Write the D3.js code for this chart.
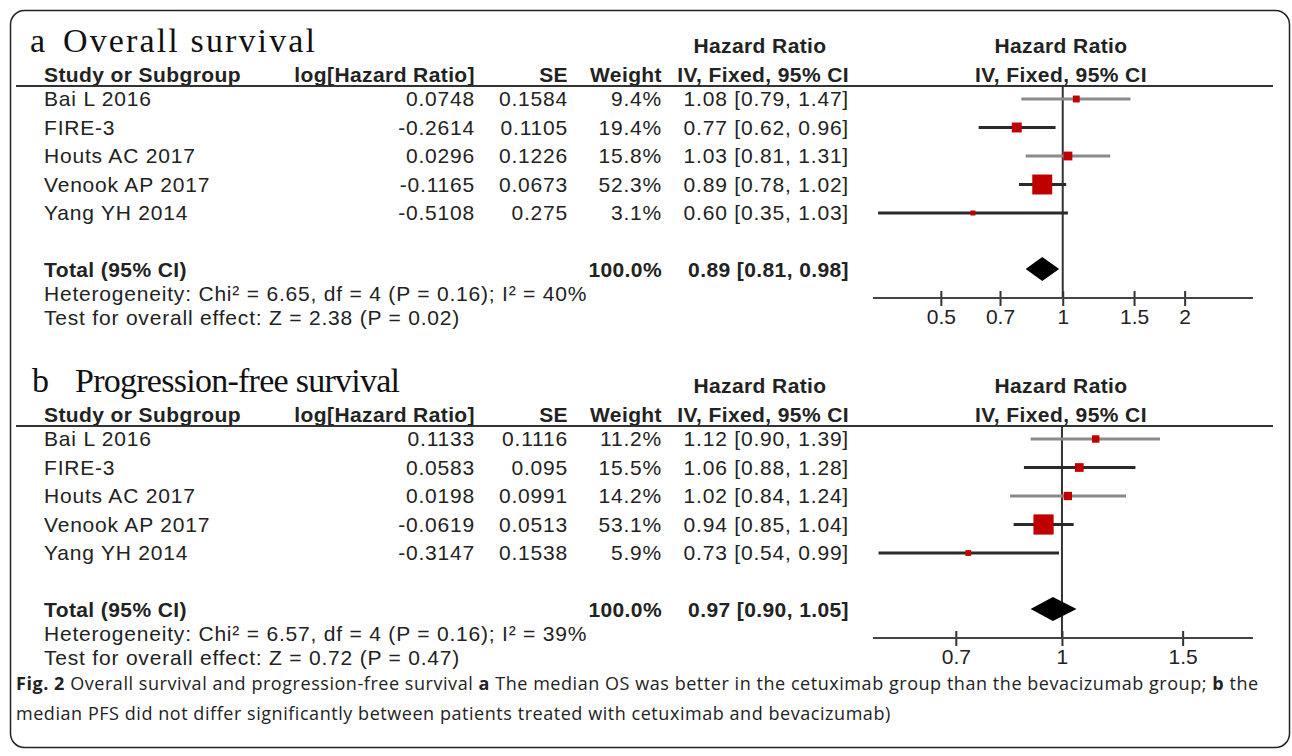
<!DOCTYPE html>
<head>
<meta charset="utf-8">
<title>Forest plots OS / PFS</title>
<script type="text/javascript" src="https://d3js.org/d3.v7.min.js"></script>
<style>
  body { margin: 0; background: #fff; }
  text { font-family: "Liberation Sans", Arial, sans-serif; fill: #222; }
  text.tab { font-size: 21px; letter-spacing: 0.8px; }
  text.tab.b { font-weight: bold; letter-spacing: 0.4px; }
</style>
</head>

<body>
<div id="container"></div>
<script>

// ---- data ----
const studies = ["Bai L 2016", "FIRE-3", "Houts AC 2017", "Venook AP 2017", "Yang YH 2014"]

const osLogHR  = [0.0748, -0.2614, 0.0296, -0.1165, -0.5108]
const osSE     = [0.1584, 0.1105, 0.1226, 0.0673, 0.275]
const osWeight = [9.4, 19.4, 15.8, 52.3, 3.1]
const osHR     = [1.08, 0.77, 1.03, 0.89, 0.60]
const osLow    = [0.79, 0.62, 0.81, 0.78, 0.35]
const osHigh   = [1.47, 0.96, 1.31, 1.02, 1.03]
const osTotal  = [0.89, 0.81, 0.98]
const osTicks  = [0.5, 0.7, 1, 1.5, 2]
const osHet    = "Heterogeneity: Chi² = 6.65, df = 4 (P = 0.16); I² = 40%"
const osTest   = "Test for overall effect: Z = 2.38 (P = 0.02)"

const pfsLogHR  = [0.1133, 0.0583, 0.0198, -0.0619, -0.3147]
const pfsSE     = [0.1116, 0.095, 0.0991, 0.0513, 0.1538]
const pfsWeight = [11.2, 15.5, 14.2, 53.1, 5.9]
const pfsHR     = [1.12, 1.06, 1.02, 0.94, 0.73]
const pfsLow    = [0.90, 0.88, 0.84, 0.85, 0.54]
const pfsHigh   = [1.39, 1.28, 1.24, 1.04, 0.99]
const pfsTotal  = [0.97, 0.90, 1.05]
const pfsTicks  = [0.7, 1, 1.5]
const pfsHet    = "Heterogeneity: Chi² = 6.57, df = 4 (P = 0.16); I² = 39%"
const pfsTest   = "Test for overall effect: Z = 0.72 (P = 0.47)"

const panels = [
  {letter: "a", title: "Overall survival", logHR: osLogHR, se: osSE, weight: osWeight,
   hr: osHR, low: osLow, high: osHigh, total: osTotal, ticks: osTicks, het: osHet, test: osTest,
   domain: [0.34, 2.95], titleX: 63, titleW: 252},
  {letter: "b", title: "Progression-free survival", logHR: pfsLogHR, se: pfsSE, weight: pfsWeight,
   hr: pfsHR, low: pfsLow, high: pfsHigh, total: pfsTotal, ticks: pfsTicks, het: pfsHet, test: pfsTest,
   domain: [0.53, 1.9], titleX: 75, titleW: 325}
]

const width = 1292, height = 756
const rowStep = 28.5
const panelStep = 340

const svg = d3.select("#container").append("svg")
    .attr("width", width).attr("height", height)
    .attr("viewBox", [0, 0, width, height])

// frame
svg.append("rect")
    .attr("x", 10.5).attr("y", 10.5).attr("width", 1279).attr("height", 737)
    .attr("rx", 14).attr("fill", "none").attr("stroke", "#222").attr("stroke-width", 1.5)

const boxSize = d3.scaleLinear().domain([0, 100]).range([4, 34.5])
const ciShade = ["#8a8a8a", "#2a2a2a", "#8a8a8a", "#2a2a2a", "#2a2a2a"]
const fmtHR = (h, l, u) => `${h.toFixed(2)} [${l.toFixed(2)}, ${u.toFixed(2)}]`

panels.forEach((p, k) => {
  const g = svg.append("g").attr("transform", `translate(0,${k * panelStep})`)
  const yRow = i => 99 + i * rowStep
  const yAxis = 298
  const x = d3.scaleLog().domain(p.domain).range([873, 1253])

  // title (serif)
  const serif = "'Liberation Serif', 'Times New Roman', serif"
  g.append("text").attr("x", 30 + k * 2).attr("y", 52)
      .style("font-family", serif).style("font-size", "34px").style("fill", "#111")
      .text(p.letter)
  g.append("text").attr("x", p.titleX).attr("y", 52)
      .attr("textLength", p.titleW).attr("lengthAdjust", "spacing")
      .style("font-family", serif).style("font-size", "34px").style("fill", "#111")
      .text(p.title)

  const head = [
    {t: "Hazard Ratio", x: 760, y: 53, a: "middle"},
    {t: "Hazard Ratio", x: 1061, y: 53, a: "middle"},
    {t: "Study or Subgroup", x: 44, y: 82, a: "start"},
    {t: "log[Hazard Ratio]", x: 475, y: 82, a: "end"},
    {t: "SE", x: 568, y: 82, a: "end"},
    {t: "Weight", x: 662, y: 82, a: "end"},
    {t: "IV, Fixed, 95% CI", x: 849, y: 82, a: "end"},
    {t: "IV, Fixed, 95% CI", x: 1061, y: 82, a: "middle"}
  ]
  g.selectAll("text.head").data(head).join("text").attr("class", "head tab b")
      .attr("x", d => d.x).attr("y", d => d.y).attr("text-anchor", d => d.a)
      .text(d => d.t)

  g.append("line").attr("x1", 16).attr("x2", 1273).attr("y1", 86).attr("y2", 86)
      .attr("stroke", "#333").attr("stroke-width", 2)

  // study rows
  const cols = [
    {x: 44, a: "start", f: (i) => studies[i]},
    {x: 475, a: "end", f: (i) => String(p.logHR[i])},
    {x: 568, a: "end", f: (i) => String(p.se[i])},
    {x: 662, a: "end", f: (i) => p.weight[i].toFixed(1) + "%"},
    {x: 849, a: "end", f: (i) => fmtHR(p.hr[i], p.low[i], p.high[i])}
  ]
  studies.forEach((s, i) => {
    cols.forEach(c => {
      g.append("text").attr("class", "tab").attr("x", c.x).attr("y", yRow(i) + 7)
          .attr("text-anchor", c.a).text(c.f(i))
    })
  })

  // total / heterogeneity / test
  g.append("text").attr("class", "tab b").attr("x", 44).attr("y", 277).text("Total (95% CI)")
  g.append("text").attr("class", "tab b").attr("x", 662).attr("y", 277).attr("text-anchor", "end")
      .text("100.0%")
  g.append("text").attr("class", "tab b").attr("x", 849).attr("y", 277).attr("text-anchor", "end")
      .text(fmtHR(p.total[0], p.total[1], p.total[2]))
  g.append("text").attr("class", "tab").attr("x", 44).attr("y", 301).text(p.het)
  g.append("text").attr("class", "tab").attr("x", 44).attr("y", 325).text(p.test)

  // line of no effect
  g.append("line").attr("x1", x(1)).attr("x2", x(1)).attr("y1", 86).attr("y2", yAxis)
      .attr("stroke", "#333").attr("stroke-width", 2)

  // confidence intervals and boxes
  g.selectAll("line.ci").data(studies).join("line").attr("class", "ci")
      .attr("x1", (d, i) => x(p.low[i])).attr("x2", (d, i) => x(p.high[i]))
      .attr("y1", (d, i) => yRow(i)).attr("y2", (d, i) => yRow(i))
      .attr("stroke", (d, i) => ciShade[i]).attr("stroke-width", 3)
  g.selectAll("rect.box").data(studies).join("rect").attr("class", "box")
      .attr("x", (d, i) => x(p.hr[i]) - boxSize(p.weight[i]) / 2)
      .attr("y", (d, i) => yRow(i) - boxSize(p.weight[i]) / 2)
      .attr("width", (d, i) => boxSize(p.weight[i]))
      .attr("height", (d, i) => boxSize(p.weight[i]))
      .attr("fill", "#c00000")

  // pooled diamond
  const yT = 269
  g.append("path")
      .attr("d", `M${x(p.total[1])},${yT} L${x(p.total[0])},${yT - 12} L${x(p.total[2])},${yT} L${x(p.total[0])},${yT + 12} Z`)
      .attr("fill", "#000")

  // axis
  const ax = g.append("g").attr("transform", `translate(0,${yAxis})`)
      .call(d3.axisBottom(x).tickValues(p.ticks).tickFormat(d3.format("")).tickSize(0).tickPadding(0))
  ax.select(".domain").remove()
  ax.append("line").attr("x1", 873).attr("x2", 1253).attr("stroke", "#444").attr("stroke-width", 2)
  ax.selectAll(".tick line").attr("y1", -7).attr("y2", 8).attr("stroke", "#333").attr("stroke-width", 2)
  ax.selectAll(".tick text").attr("y", 26).attr("dy", null)
      .style("font-size", "21px").style("fill", "#222")
      .style("font-family", "'Liberation Sans', Arial, sans-serif")
})

// caption
const capFont = "'Open Sans', sans-serif"
const cap = svg.append("text").attr("x", 16).attr("y", 690)
    .style("font-family", capFont).style("font-size", "18px").style("letter-spacing", "0.55px")
    .style("fill", "#222")
cap.append("tspan").style("font-weight", "bold").text("Fig. 2")
cap.append("tspan").text(" Overall survival and progression-free survival ")
cap.append("tspan").style("font-weight", "bold").text("a")
cap.append("tspan").text(" The median OS was better in the cetuximab group than the bevacizumab group; ")
cap.append("tspan").style("font-weight", "bold").text("b")
cap.append("tspan").text(" the")
svg.append("text").attr("x", 16).attr("y", 720)
    .style("font-family", capFont).style("font-size", "18px").style("letter-spacing", "0.55px")
    .style("fill", "#222")
    .text("median PFS did not differ significantly between patients treated with cetuximab and bevacizumab)")

</script>
</body>
